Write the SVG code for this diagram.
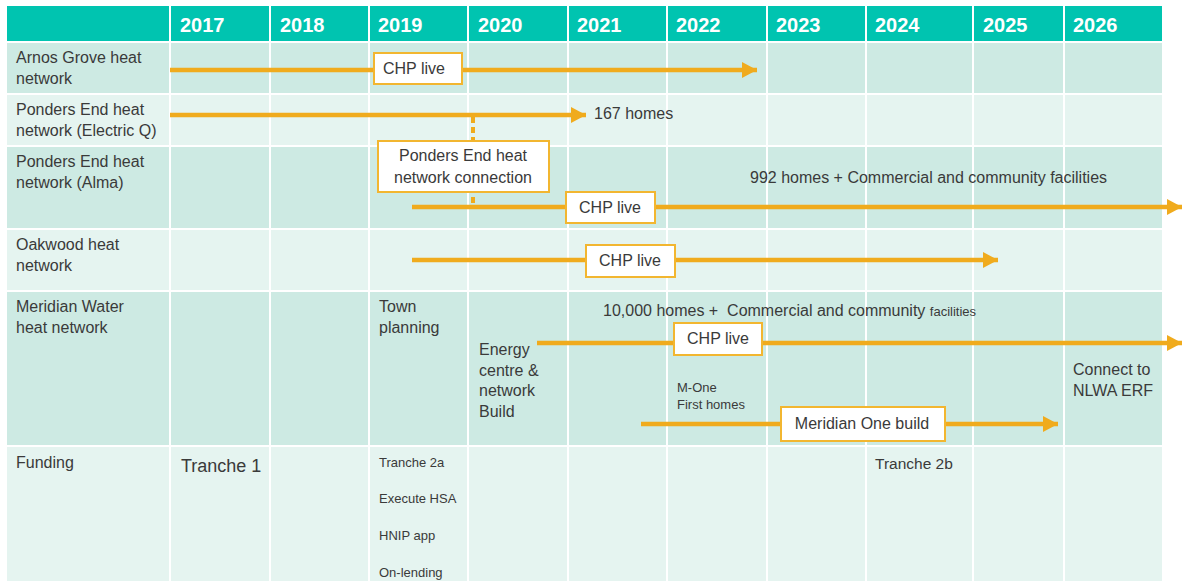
<svg xmlns="http://www.w3.org/2000/svg" width="1182" height="581" viewBox="0 0 1182 581">
  <style>
    .hdr { fill: #00c4b0; }
    .dark { fill: #cdeae3; }
    .light { fill: #e5f4f0; }
    .grid { stroke: #ffffff; stroke-width: 2; }
    .year { font-family: "Liberation Sans", Arial, sans-serif; font-size: 20px; font-weight: bold; fill: #ffffff; }
    .lbl { font-family: "Liberation Sans", Arial, sans-serif; font-size: 16px; fill: #3a3a3a; }
    .sm { font-family: "Liberation Sans", Arial, sans-serif; font-size: 13px; fill: #3a3a3a; }
    .big { font-size: 18px; }
    .mdm { font-size: 15.5px; }
    .box { fill: #ffffff; stroke: #f2b630; stroke-width: 2; }
    .bar { stroke: #f0ab1d; stroke-width: 4.5; fill: none; }
    .dash { stroke: #f0ab1d; stroke-width: 4; stroke-dasharray: 6 4; fill: none; }
    .mid { text-anchor: middle; }
  </style>
  <defs>
    <marker id="head" viewBox="0 0 15 16" refX="15" refY="8" markerWidth="15" markerHeight="16" markerUnits="userSpaceOnUse" orient="auto">
      <path d="M0,0 L15,8 L0,16 Z" fill="#f0ab1d"/>
    </marker>
  </defs>

  <rect width="1182" height="581" fill="#ffffff"/>

  <!-- table background -->
  <g id="table">
    <rect class="hdr" x="7" y="6" width="1155" height="35"/>
    <rect class="dark" x="7" y="43" width="1155" height="50"/>
    <rect class="light" x="7" y="95" width="1155" height="50"/>
    <rect class="dark" x="7" y="147" width="1155" height="81"/>
    <rect class="light" x="7" y="230" width="1155" height="60"/>
    <rect class="dark" x="7" y="292" width="1155" height="153"/>
    <rect class="light" x="7" y="447" width="1155" height="134"/>
    <g class="grid">
      <line x1="170" y1="6" x2="170" y2="581"/>
      <line x1="270" y1="6" x2="270" y2="581"/>
      <line x1="369" y1="6" x2="369" y2="581"/>
      <line x1="468" y1="6" x2="468" y2="581"/>
      <line x1="568" y1="6" x2="568" y2="581"/>
      <line x1="667" y1="6" x2="667" y2="581"/>
      <line x1="767" y1="6" x2="767" y2="581"/>
      <line x1="866" y1="6" x2="866" y2="581"/>
      <line x1="973" y1="6" x2="973" y2="581"/>
      <line x1="1064" y1="6" x2="1064" y2="581"/>
    </g>
    <g class="year">
      <text x="180" y="32">2017</text>
      <text x="280" y="32">2018</text>
      <text x="378" y="32">2019</text>
      <text x="478" y="32">2020</text>
      <text x="577" y="32">2021</text>
      <text x="676" y="32">2022</text>
      <text x="776" y="32">2023</text>
      <text x="875" y="32">2024</text>
      <text x="983" y="32">2025</text>
      <text x="1073" y="32">2026</text>
    </g>
    <g class="lbl">
      <text x="16" y="63">Arnos Grove heat</text>
      <text x="16" y="84">network</text>
      <text x="16" y="115">Ponders End heat</text>
      <text x="16" y="136">network (Electric Q)</text>
      <text x="16" y="167">Ponders End heat</text>
      <text x="16" y="188">network (Alma)</text>
      <text x="16" y="250">Oakwood heat</text>
      <text x="16" y="271">network</text>
      <text x="16" y="312">Meridian Water</text>
      <text x="16" y="333">heat network</text>
      <text x="16" y="468">Funding</text>
    </g>
  </g>

  <!-- timeline bars and the dashed link -->
  <g id="connectors">
    <line class="bar" x1="170" y1="70" x2="757" y2="70" marker-end="url(#head)"/>
    <line class="bar" x1="170" y1="115" x2="586" y2="115" marker-end="url(#head)"/>
    <line class="dash" x1="473" y1="117" x2="473" y2="207"/>
    <line class="bar" x1="412" y1="207" x2="1182" y2="207" marker-end="url(#head)"/>
    <line class="bar" x1="412" y1="260" x2="998" y2="260" marker-end="url(#head)"/>
    <line class="bar" x1="537" y1="343" x2="1182" y2="343" marker-end="url(#head)"/>
    <line class="bar" x1="641" y1="424" x2="1058" y2="424" marker-end="url(#head)"/>
  </g>

  <g id="arnos-chp">
    <rect class="box" x="374" y="53" width="88" height="31"/>
    <text class="lbl" x="383" y="74">CHP live</text>
  </g>

  <g id="electricq-homes">
    <text class="lbl" x="594" y="119">167 homes</text>
  </g>

  <g id="pe-connection">
    <rect class="box" x="378" y="141" width="171" height="51"/>
    <text class="lbl mid" x="463" y="161">Ponders End heat</text>
    <text class="lbl mid" x="463" y="183">network connection</text>
  </g>

  <g id="alma-chp">
    <rect class="box" x="566" y="192" width="89" height="31"/>
    <text class="lbl mid" x="610" y="213">CHP live</text>
  </g>

  <g id="alma-homes">
    <text class="lbl" x="750" y="183">992 homes + Commercial and community facilities</text>
  </g>

  <g id="oakwood-chp">
    <rect class="box" x="586" y="245" width="89" height="32"/>
    <text class="lbl mid" x="630" y="266">CHP live</text>
  </g>

  <g id="town-planning">
    <text class="lbl" x="379" y="312">Town</text>
    <text class="lbl" x="379" y="333">planning</text>
  </g>

  <g id="energy-centre">
    <text class="lbl" x="479" y="355">Energy</text>
    <text class="lbl" x="479" y="376">centre &amp;</text>
    <text class="lbl" x="479" y="396">network</text>
    <text class="lbl" x="479" y="417">Build</text>
  </g>

  <g id="meridian-homes">
    <text class="lbl" x="603" y="316">10,000 homes +&#160; Commercial and community <tspan font-size="13">facilities</tspan></text>
  </g>

  <g id="meridian-chp">
    <rect class="box" x="674" y="323" width="88" height="32"/>
    <text class="lbl mid" x="718" y="344">CHP live</text>
  </g>

  <g id="m-one">
    <text class="sm" x="677" y="392">M-One</text>
    <text class="sm" x="677" y="409">First homes</text>
  </g>

  <g id="meridian-one-build">
    <rect class="box" x="781" y="407" width="164" height="34"/>
    <text class="lbl mid" x="862" y="429">Meridian One build</text>
  </g>

  <g id="nlwa">
    <text class="lbl" x="1073" y="375">Connect to</text>
    <text class="lbl" x="1073" y="396">NLWA ERF</text>
  </g>

  <g id="tranche-1">
    <text class="lbl big" x="181" y="472">Tranche 1</text>
  </g>

  <g id="tranche-2a">
    <text class="sm" x="379" y="467">Tranche 2a</text>
    <text class="sm" x="379" y="503">Execute HSA</text>
    <text class="sm" x="379" y="540">HNIP app</text>
    <text class="sm" x="379" y="577">On-lending</text>
  </g>

  <g id="tranche-2b">
    <text class="lbl mdm" x="875" y="469">Tranche 2b</text>
  </g>
</svg>
